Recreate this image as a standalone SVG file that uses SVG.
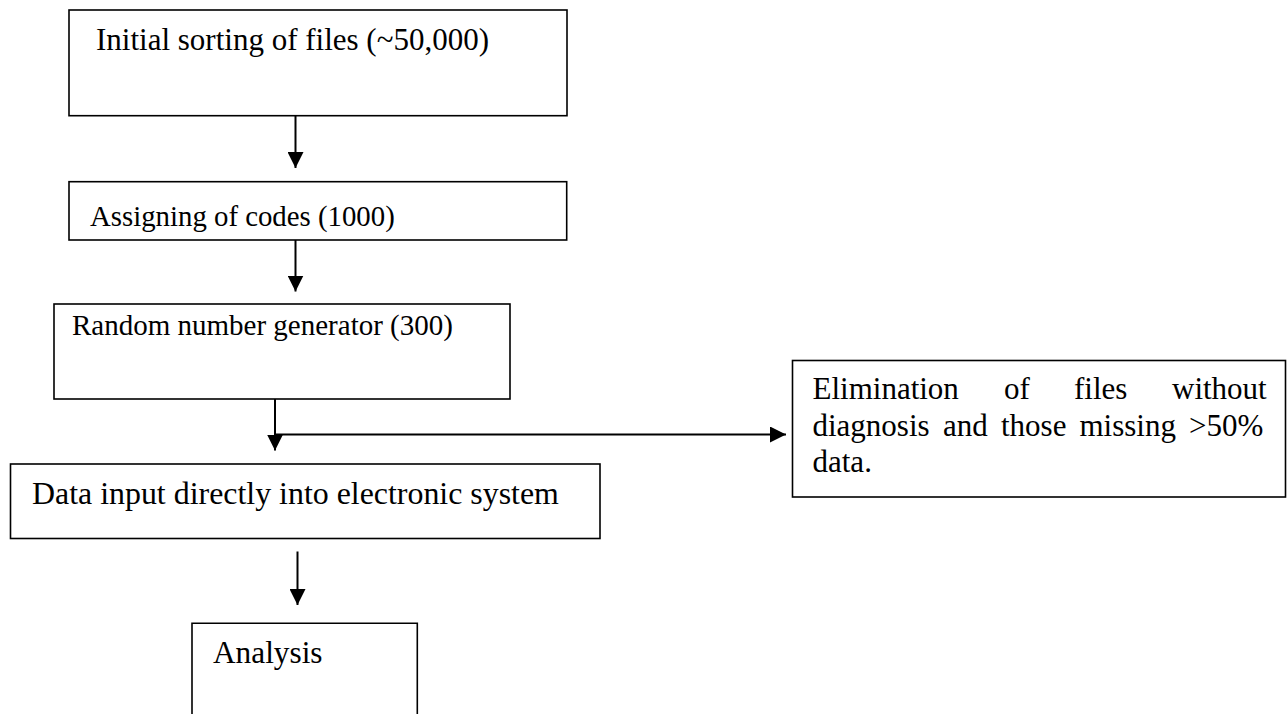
<svg xmlns="http://www.w3.org/2000/svg" width="1287" height="714" viewBox="0 0 1287 714">
<style>
.box{fill:#fff;stroke:#000;stroke-width:1.6}
.t{font-family:"Liberation Serif","Times New Roman",serif;fill:#000}
.c{fill:none;stroke:#000;stroke-width:2}
</style>
<defs>
<marker id="ah" viewBox="0 0 16 16" refX="16" refY="8" markerWidth="16" markerHeight="16" markerUnits="userSpaceOnUse" orient="auto">
<path d="M0,0 L16,8 L0,16 Z" fill="#000"/>
</marker>
</defs>
<rect width="1287" height="714" fill="#fff"/>
<g id="connectors">
<line class="c" x1="295.5" y1="116" x2="295.5" y2="168" marker-end="url(#ah)"/>
<line class="c" x1="295.5" y1="240" x2="295.5" y2="291.5" marker-end="url(#ah)"/>
<line class="c" x1="275" y1="399" x2="275" y2="450.5" marker-end="url(#ah)"/>
<line class="c" x1="275" y1="434.5" x2="786" y2="434.5" marker-end="url(#ah)"/>
<line class="c" x1="297.5" y1="551.5" x2="297.5" y2="605" marker-end="url(#ah)"/>
</g>
<g id="node1">
<rect class="box" x="69" y="10" width="498" height="105.7"/>
<text class="t" x="96" y="49.5" font-size="31">Initial sorting of files (~50,000)</text>
</g>
<g id="node2">
<rect class="box" x="69" y="181.7" width="497.7" height="58.3"/>
<text class="t" x="90" y="226" font-size="28.8">Assigning of codes (1000)</text>
</g>
<g id="node3">
<rect class="box" x="54" y="304" width="456" height="95"/>
<text class="t" x="72" y="335" font-size="29">Random number generator (300)</text>
</g>
<g id="node4">
<rect class="box" x="10.5" y="464" width="589.5" height="74.5"/>
<text class="t" x="32" y="503.5" font-size="31.9">Data input directly into electronic system</text>
</g>
<g id="node5">
<path class="box" d="M192,716 V623.3 H417.3 V716"/>
<text class="t" x="213" y="662.7" font-size="31.3">Analysis</text>
</g>
<g id="node6">
<rect class="box" x="792.5" y="360.5" width="493" height="136.5"/>
<text class="t" font-size="31">
<tspan x="812.5" y="399">Elimination</tspan><tspan x="1004" y="399">of</tspan><tspan x="1074" y="399">files</tspan><tspan x="1172" y="399">without</tspan>
<tspan x="812.5" y="435.5">diagnosis</tspan><tspan x="943" y="435.5">and</tspan><tspan x="1001" y="435.5">those</tspan><tspan x="1079.5" y="435.5">missing</tspan><tspan x="1189" y="435.5">&gt;50%</tspan>
<tspan x="812.5" y="472">data.</tspan>
</text>
</g>
</svg>
